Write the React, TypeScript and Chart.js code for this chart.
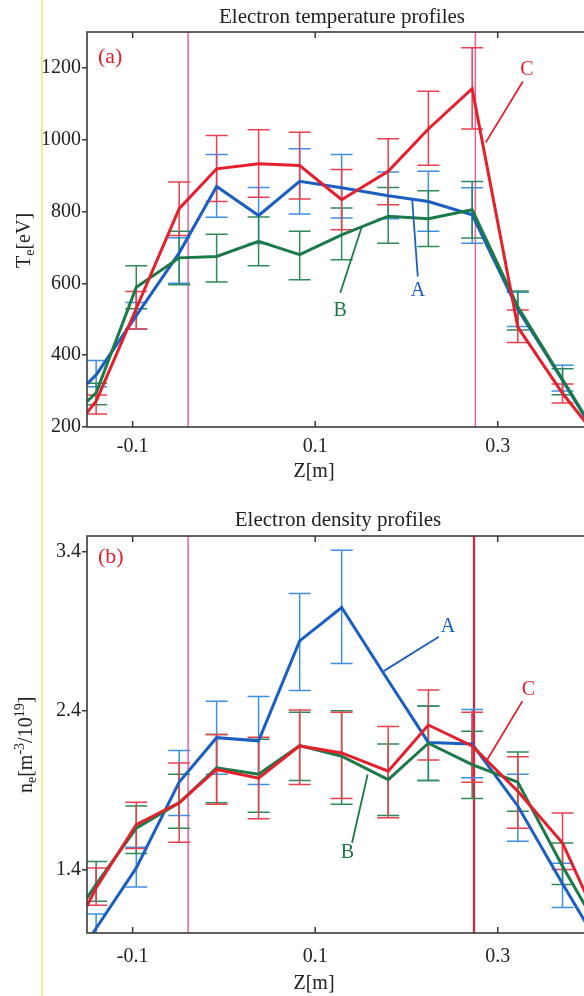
import React, { useEffect, useRef } from "react";
import { Chart, registerables } from "chart.js";

Chart.register(...registerables);

// ---------- shared axis ----------
const zPositions = [-0.15, -0.14, -0.096, -0.049, -0.008, 0.038, 0.083, 0.129, 0.18, 0.224, 0.272, 0.322, 0.371, 0.4];
const xTickValues = [-0.1, 0.1, 0.3];

// ---------- panel (a): electron temperature [eV] ----------
const teTicks = [200, 400, 600, 800, 1000, 1200];
const teA = [320, 345, 510, 685, 870, 789, 884, 866, 844, 828, 791, 528, 330, 209];
const teALow = [null, 312, 473, 600, 784, 711, 793, 782, 780, 745, 712, 480, 300, null];
const teAHigh = [null, 385, 547, 727, 959, 867, 975, 959, 910, 912, 866, 575, 372, null];
const teB = [271, 295, 589, 671, 675, 717, 680, 735, 787, 780, 805, 535, 332, 213];
const teBLow = [null, 262, 529, 596, 604, 649, 610, 666, 712, 703, 726, 470, 290, null];
const teBHigh = [null, 322, 649, 745, 737, 785, 745, 810, 867, 858, 884, 579, 362, null];
const teC = [240, 272, 530, 808, 919, 933, 928, 833, 912, 1030, 1142, 478, 294, 201];
const teCLow = [null, 236, 473, 733, 828, 840, 835, 749, 819, 929, 1030, 435, 267, null];
const teCHigh = [null, 289, 577, 882, 1012, 1028, 1021, 917, 1003, 1135, 1256, 526, 320, null];

// ---------- panel (b): electron density [1e19 m^-3] ----------
const neTicks = [1.4, 2.4, 3.4];
const neA = [0.94, 1.03, 1.41, 1.95, 2.23, 2.21, 2.84, 3.05, 2.59, 2.2, 2.19, 1.8, 1.31, 1.03];
const neALow = [null, 0.94, 1.29, 1.74, 2.0, 1.935, 2.527, 2.697, null, 1.96, 1.977, 1.578, 1.16, null];
const neAHigh = [null, 1.12, 1.54, 2.15, 2.46, 2.49, 3.138, 3.41, null, 2.43, 2.407, 2.0, 1.44, null];
const neB = [1.22, 1.306, 1.66, 1.82, 2.04, 2.0, 2.18, 2.113, 1.966, 2.195, 2.06, 1.95, 1.42, 1.13];
const neBLow = [null, 1.2, 1.5, 1.66, 1.82, 1.76, 1.96, 1.81, 1.74, 1.96, 1.847, 1.767, 1.306, null];
const neBHigh = [null, 1.45, 1.8, 2.0, 2.25, 2.22, 2.39, 2.4, 2.19, 2.43, 2.27, 2.14, 1.567, null];
const neC = [1.17, 1.284, 1.683, 1.82, 2.03, 1.975, 2.178, 2.134, 2.019, 2.31, 2.178, 1.893, 1.567, 1.2];
const neCLow = [null, 1.175, 1.532, 1.572, 1.81, 1.719, 1.935, 1.847, 1.725, 2.09, 1.95, 1.66, 1.4, null];
const neCHigh = [null, 1.41, 1.824, 2.07, 2.25, 2.233, 2.405, 2.39, 2.3, 2.53, 2.39, 2.11, 1.756, null];

// ---------- styles ----------
const FONT = '"Liberation Serif", "Times New Roman", serif';
const RED = "#e3202b";
const BLUE = "#1c5fc2";
const GREEN = "#1b7a48";
const RED_BAR = "#e8404c";
const BLUE_BAR = "#3f8fe2";
const GREEN_BAR = "#2e8a58";
const PINK = "#e860a2";
const FRAME = "#3a3a3a";
const TEXT = "#222";

type Part = { text: string; size: number; dy: number };
type Series = { values: number[]; low: (number | null)[]; high: (number | null)[]; line: string; bar: string };
type Note = { text: string; color: string; at: [number, number]; from: [number, number]; to: [number, number] };
type Panel = {
  width: number; height: number; top: number;
  padTop: number; xAxisHeight: number; xTickPad: number;
  yMin: number; yMax: number; yTicks: number[]; yFmt: (v: number) => string;
  title: string; titleBaseline: number; titleX: number;
  tag: string; tagBaseline: number;
  xTitleBaseline: number; xTitleX: number;
  yTitle: Part[]; yTitleX: number; yTitleStart: number;
  vlines: { z: number; color: string; width: number }[];
  series: Series[]; notes: Note[];
};

const panels: Panel[] = [
  {
    width: 600, height: 490, top: 0,
    padTop: 32, xAxisHeight: 63, xTickPad: 0,
    yMin: 200, yMax: 1300, yTicks: teTicks, yFmt: (v) => String(v),
    title: "Electron temperature profiles", titleBaseline: 23, titleX: 342,
    tag: "(a)", tagBaseline: 63,
    xTitleBaseline: 477, xTitleX: 314,
    yTitle: [
      { text: "T", size: 20, dy: 0 },
      { text: "e", size: 14, dy: 4 },
      { text: "[eV]", size: 20, dy: 0 },
    ],
    yTitleX: 30, yTitleStart: 268,
    vlines: [
      { z: -0.0392, color: PINK, width: 1.5 },
      { z: 0.2755, color: PINK, width: 1.5 },
    ],
    series: [
      { values: teC, low: teCLow, high: teCHigh, line: RED, bar: RED_BAR },
      { values: teB, low: teBLow, high: teBHigh, line: GREEN, bar: GREEN_BAR },
      { values: teA, low: teALow, high: teAHigh, line: BLUE, bar: BLUE_BAR },
    ],
    notes: [
      { text: "C", color: RED, at: [0.3319, 1196], from: [0.3275, 1162], to: [0.2868, 992] },
      { text: "A", color: BLUE, at: [0.2126, 579], from: [0.2063, 833], to: [0.2124, 619] },
      { text: "B", color: GREEN, at: [0.1275, 525], from: [0.1513, 759], to: [0.1275, 574] },
    ],
  },
  {
    width: 600, height: 506, top: 490,
    padTop: 46, xAxisHeight: 63, xTickPad: 4,
    yMin: 1.0, yMax: 3.5, yTicks: neTicks, yFmt: (v) => v.toFixed(1),
    title: "Electron density profiles", titleBaseline: 36, titleX: 338,
    tag: "(b)", tagBaseline: 73,
    xTitleBaseline: 499, xTitleX: 314,
    yTitle: [
      { text: "n", size: 20, dy: 0 },
      { text: "e", size: 14, dy: 4 },
      { text: "[m", size: 20, dy: 0 },
      { text: "-3", size: 14, dy: -8 },
      { text: "/10", size: 20, dy: 0 },
      { text: "19", size: 14, dy: -8 },
      { text: "]", size: 20, dy: 0 },
    ],
    yTitleX: 32, yTitleStart: 303,
    vlines: [
      { z: -0.0392, color: PINK, width: 1.5 },
      { z: 0.274, color: "#e01f3d", width: 2.2 },
    ],
    series: [
      { values: neC, low: neCLow, high: neCHigh, line: RED, bar: RED_BAR },
      { values: neB, low: neBLow, high: neBHigh, line: GREEN, bar: GREEN_BAR },
      { values: neA, low: neALow, high: neAHigh, line: BLUE, bar: BLUE_BAR },
    ],
    notes: [
      { text: "A", color: BLUE, at: [0.2456, 2.926], from: [0.2355, 2.865], to: [0.175, 2.649] },
      { text: "C", color: RED, at: [0.3335, 2.529], from: [0.3271, 2.46], to: [0.2886, 2.093] },
      { text: "B", color: GREEN, at: [0.1352, 1.503], from: [0.1575, 1.998], to: [0.1404, 1.568] },
    ],
  },
];

const CAP = 11;

function makeDecor(p: Panel) {
  return {
    id: "decor",
    beforeDatasetsDraw(chart: any) {
      const { ctx, chartArea: a, scales } = chart;
      const xs = scales.x;
      const ys = scales.y;
      ctx.save();
      ctx.beginPath();
      ctx.rect(a.left, a.top, a.right - a.left, a.bottom - a.top);
      ctx.clip();
      p.vlines.forEach((v) => {
        const px = xs.getPixelForValue(v.z);
        ctx.strokeStyle = v.color;
        ctx.lineWidth = v.width;
        ctx.beginPath();
        ctx.moveTo(px, a.top);
        ctx.lineTo(px, a.bottom);
        ctx.stroke();
      });
      [...p.series].reverse().forEach((s) => {
        ctx.strokeStyle = s.bar;
        ctx.lineWidth = 1.5;
        zPositions.forEach((z, i) => {
          const lo = s.low[i];
          const hi = s.high[i];
          if (lo == null || hi == null) return;
          const px = xs.getPixelForValue(z);
          const p1 = ys.getPixelForValue(lo);
          const p2 = ys.getPixelForValue(hi);
          ctx.beginPath();
          ctx.moveTo(px, p1);
          ctx.lineTo(px, p2);
          ctx.moveTo(px - CAP, p1);
          ctx.lineTo(px + CAP, p1);
          ctx.moveTo(px - CAP, p2);
          ctx.lineTo(px + CAP, p2);
          ctx.stroke();
        });
      });
      ctx.restore();
    },
    afterDatasetsDraw(chart: any) {
      const { ctx, chartArea: a, scales } = chart;
      const xs = scales.x;
      const ys = scales.y;
      ctx.save();
      // leaders + series labels
      p.notes.forEach((n) => {
        ctx.strokeStyle = n.color;
        ctx.lineWidth = 1.8;
        ctx.beginPath();
        ctx.moveTo(xs.getPixelForValue(n.from[0]), ys.getPixelForValue(n.from[1]));
        ctx.lineTo(xs.getPixelForValue(n.to[0]), ys.getPixelForValue(n.to[1]));
        ctx.stroke();
        ctx.fillStyle = n.color;
        ctx.font = `20px ${FONT}`;
        ctx.textAlign = "center";
        ctx.textBaseline = "middle";
        ctx.fillText(n.text, xs.getPixelForValue(n.at[0]), ys.getPixelForValue(n.at[1]));
      });
      // frame
      ctx.strokeStyle = FRAME;
      ctx.lineWidth = 1.6;
      ctx.strokeRect(a.left, a.top, a.right - a.left, a.bottom - a.top);
      // inward x ticks top and bottom
      ctx.lineWidth = 1.5;
      xTickValues.forEach((v) => {
        const px = xs.getPixelForValue(v);
        ctx.beginPath();
        ctx.moveTo(px, a.bottom);
        ctx.lineTo(px, a.bottom - 6);
        ctx.moveTo(px, a.top);
        ctx.lineTo(px, a.top + 6);
        ctx.stroke();
      });
      // panel tag
      ctx.fillStyle = RED;
      ctx.font = `22px ${FONT}`;
      ctx.textAlign = "left";
      ctx.textBaseline = "alphabetic";
      ctx.fillText(p.tag, a.left + 11, p.tagBaseline);
      // title
      ctx.fillStyle = TEXT;
      ctx.font = `21px ${FONT}`;
      ctx.textAlign = "center";
      ctx.fillText(p.title, p.titleX, p.titleBaseline);
      // x title
      ctx.font = `20px ${FONT}`;
      ctx.fillText("Z[m]", p.xTitleX, p.xTitleBaseline);
      // y title (rotated, with sub/superscripts)
      ctx.translate(p.yTitleX, p.yTitleStart);
      ctx.rotate(-Math.PI / 2);
      ctx.textAlign = "left";
      let cx = 0;
      p.yTitle.forEach((pt) => {
        ctx.font = `${pt.size}px ${FONT}`;
        ctx.fillText(pt.text, cx, pt.dy);
        cx += ctx.measureText(pt.text).width;
      });
      ctx.restore();
    },
  };
}

function PanelChart({ p }: { p: Panel }) {
  const ref = useRef<HTMLCanvasElement | null>(null);
  useEffect(() => {
    const canvas = ref.current;
    if (!canvas) return;
    const chart = new Chart(canvas, {
      type: "line",
      data: {
        datasets: p.series.map((s) => ({
          data: zPositions.map((z, i) => ({ x: z, y: s.values[i] })),
          borderColor: s.line,
          backgroundColor: s.line,
          borderWidth: 3,
          pointRadius: 0,
          tension: 0,
          fill: false,
        })),
      },
      options: {
        responsive: false,
        animation: false,
        devicePixelRatio: 1,
        parsing: false,
        layout: { padding: { top: p.padTop, left: 0, right: p.width - 589, bottom: 0 } },
        plugins: { legend: { display: false }, title: { display: false }, tooltip: { enabled: false } },
        events: [],
        scales: {
          x: {
            type: "linear",
            min: -0.15,
            max: 0.4,
            afterBuildTicks: (s: any) => {
              s.ticks = xTickValues.map((v) => ({ value: v }));
            },
            afterFit: (s: any) => {
              s.height = p.xAxisHeight;
            },
            ticks: {
              autoSkip: false,
              maxRotation: 0,
              padding: p.xTickPad,
              color: TEXT,
              font: { family: FONT, size: 20 },
              callback: (v: any) => Number(v).toFixed(1),
            },
            grid: { display: false },
            border: { display: false },
          },
          y: {
            type: "linear",
            min: p.yMin,
            max: p.yMax,
            afterBuildTicks: (s: any) => {
              s.ticks = p.yTicks.map((v) => ({ value: v }));
            },
            afterFit: (s: any) => {
              s.width = 87;
            },
            ticks: {
              autoSkip: false,
              padding: 1,
              color: TEXT,
              font: { family: FONT, size: 20 },
              callback: (v: any) => p.yFmt(Number(v)),
            },
            grid: { drawOnChartArea: false, drawTicks: true, tickLength: 5, color: FRAME, lineWidth: 1.5 },
            border: { display: false },
          },
        },
      } as any,
      plugins: [makeDecor(p)],
    });
    return () => chart.destroy();
  }, [p]);
  return (
    <canvas
      ref={ref}
      width={p.width}
      height={p.height}
      style={{ position: "absolute", left: 0, top: p.top, width: p.width, height: p.height }}
    />
  );
}

export default function App() {
  return (
    <div
      style={{
        position: "absolute",
        left: 0,
        top: 0,
        width: 584,
        height: 996,
        overflow: "hidden",
        background: "#ffffff",
      }}
    >
      <div style={{ position: "absolute", left: 41, top: 0, width: 2, height: 996, background: "#f2ee8e" }} />
      {panels.map((p, i) => (
        <PanelChart key={i} p={p} />
      ))}
    </div>
  );
}
